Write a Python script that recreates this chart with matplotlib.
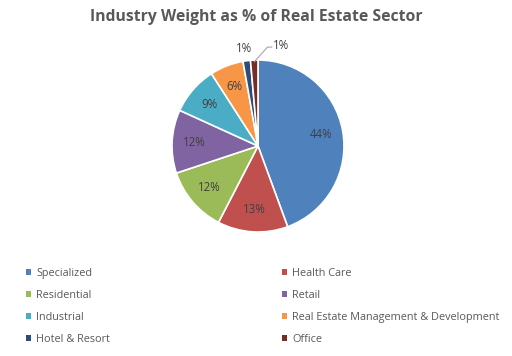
import matplotlib
matplotlib.use("Agg")
import matplotlib.pyplot as plt
import numpy as np

categories = ["Specialized", "Health Care", "Residential", "Retail", "Industrial",
              "Real Estate Management & Development", "Hotel & Resort", "Office"]
values = [44.4, 13.2, 12.3, 11.9, 9.1, 6.3, 1.4, 1.4]
labels = ["44%", "13%", "12%", "12%", "9%", "6%", "1%", "1%"]
colors = ["#4F81BD", "#C0504D", "#9BBB59", "#8064A2", "#4BACC6", "#F79646", "#2C4D75", "#772C2A"]

plt.rcParams['font.family'] = ['Open Sans', 'DejaVu Sans']
W, H = 512, 356
fig = plt.figure(figsize=(W/100, H/100), dpi=100)
fig.patch.set_facecolor("white")

cx, cy, r = 258, 146, 86
ax = fig.add_axes([(cx - r)/W, (H - cy - r)/H, 2*r/W, 2*r/H])
wedges, _ = ax.pie(values, colors=colors, startangle=90, counterclock=False,
                   wedgeprops=dict(edgecolor="white", linewidth=1.2), radius=1)
ax.set_xlim(-1, 1); ax.set_ylim(-1, 1)
ax.set_aspect("equal")
ax.axis("off")

txtc = "#404040"
total = sum(values)
cum = 0
for i, (v, lab) in enumerate(zip(values, labels)):
    mid = 90 - (cum + v/2) / total * 360
    cum += v
    a = np.deg2rad(mid)
    if i < 6:
        d = 0.74
        ax.text(d*np.cos(a), d*np.sin(a), lab, ha="center", va="center", fontsize=8.3, color=txtc)
    elif i == 6:
        ax.text(-0.16, 1.13, lab, ha="center", va="center", fontsize=8.3, color=txtc)
    else:
        x0, y0 = 0.98*np.cos(a), 0.98*np.sin(a)
        ax.plot([x0, 0.11, 0.16], [y0, 1.15, 1.15], color="#A6A6A6", lw=0.8, clip_on=False)
        ax.text(0.17, 1.17, lab, ha="left", va="center", fontsize=8.3, color=txtc)

fig.text(0.5, 1 - 17/H, "Industry Weight as % of Real Estate Sector", ha="center", va="center",
         fontsize=11.3, fontweight="bold", color="#595959")

kw = dict(frameon=False, fontsize=7.8, handlelength=0.5, handleheight=0.5, handletextpad=0.45,
          labelspacing=1.0, borderaxespad=0, borderpad=0, labelcolor="#595959")
leg1 = fig.legend([wedges[i] for i in (0, 2, 4, 6)], [categories[i] for i in (0, 2, 4, 6)],
                  loc="upper left", bbox_to_anchor=(26/W, 1 - 268/H), **kw)
leg2 = fig.legend([wedges[i] for i in (1, 3, 5, 7)], [categories[i] for i in (1, 3, 5, 7)],
                  loc="upper left", bbox_to_anchor=(282/W, 1 - 268/H), **kw)
for leg in (leg1, leg2):
    for h in leg.legend_handles:
        h.set_edgecolor("none")

fig.savefig("out.png", dpi=100, facecolor="white")
